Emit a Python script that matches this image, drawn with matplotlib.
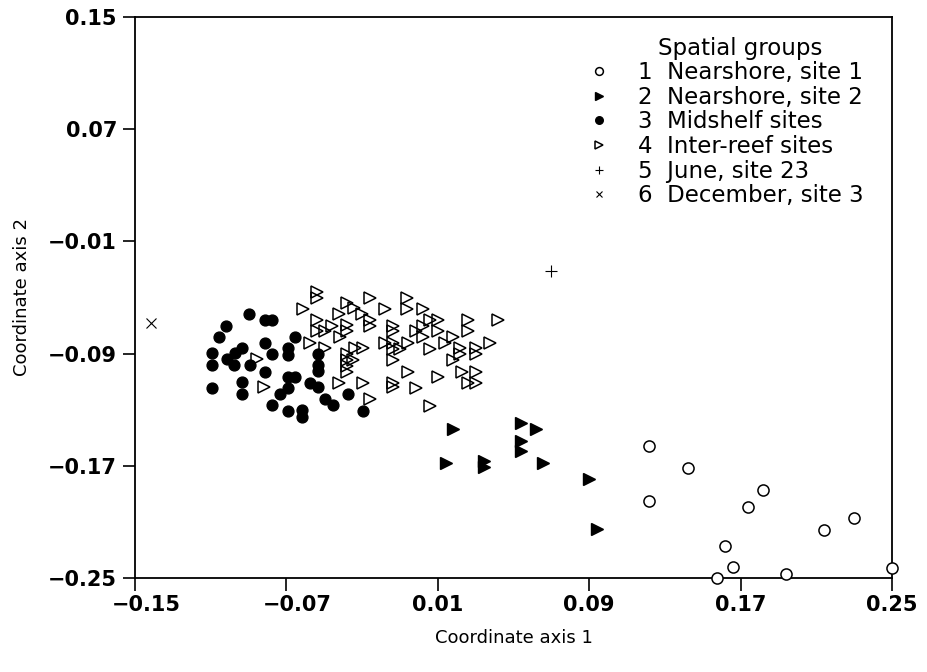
"""ordination plot of spatial groups"""
import matplotlib
matplotlib.use("Agg")
import matplotlib.pyplot as plt
import matplotlib.transforms as mtransforms

plt.rcParams['font.family'] = ['DejaVu Sans']

# group 1: nearshore, site 1 (open circles)
g1_x = [0.1218, 0.142, 0.1218, 0.182, 0.1741, 0.2299, 0.2142, 0.1618,
        0.1658, 0.1577, 0.194, 0.2498]
g1_y = [-0.1559, -0.1718, -0.1951, -0.1872, -0.1996, -0.2074, -0.2158,
        -0.2270, -0.2424, -0.2500, -0.2471, -0.2431]

# group 2: nearshore, site 2 (filled triangles)
g2_x = [0.0182, 0.054, 0.0617, 0.054, 0.054, 0.0143, 0.0344, 0.0344,
        0.0657, 0.0901, 0.094]
g2_y = [-0.1438, -0.1393, -0.1438, -0.1521, -0.1594, -0.1678, -0.1666,
        -0.1711, -0.1678, -0.1794, -0.2153]

# group 3: midshelf sites (filled circles)
g3_x = [-0.0896, -0.1019, -0.1055, -0.0813, -0.0774, -0.1095, -0.1095,
        -0.1015, -0.0972, -0.0933, -0.0975, -0.0892, -0.0813, -0.0774,
        -0.0813, -0.0693, -0.0693, -0.0655, -0.1095, -0.0933, -0.0933,
        -0.0693, -0.0655, -0.0693, -0.0734, -0.0774, -0.0693, -0.0616,
        -0.0616, -0.0535, -0.0535, -0.0535, -0.0575, -0.0535, -0.0496,
        -0.0455, -0.0376, -0.0294]
g3_y = [-0.0620, -0.0701, -0.0779, -0.0660, -0.0660, -0.0898, -0.0981,
        -0.0941, -0.0898, -0.0862, -0.0981, -0.0981, -0.0822, -0.0903,
        -0.1029, -0.0862, -0.0910, -0.0784, -0.1143, -0.1100, -0.1188,
        -0.1065, -0.1065, -0.1147, -0.1188, -0.1266, -0.1307, -0.1302,
        -0.1350, -0.0903, -0.0981, -0.1022, -0.1107, -0.1140, -0.1226,
        -0.1266, -0.1188, -0.1307]

# group 4: inter-reef sites (open triangles)
g4_x = [-0.0537, -0.0537, -0.0614, -0.0258, -0.0378, -0.0341, -0.0302,
        -0.0258, -0.0179, -0.0061, -0.0061, 0.0023, -0.0420, -0.0537,
        -0.0537, -0.0496, -0.0461, -0.0378, -0.0378, -0.0417, -0.0258,
        -0.0135, -0.0135, -0.0179, -0.0135, -0.0135, -0.0135, -0.0015,
        0.0023, 0.0059, 0.0103, 0.0023, 0.0103, -0.0100, -0.0056,
        0.0261, 0.0261, 0.0420, 0.0182, 0.0138, -0.0575, -0.0496,
        -0.0378, -0.0338, -0.0297, -0.0378, -0.0347, -0.0378, -0.0378,
        0.0059, 0.0217, 0.0217, 0.0302, 0.0302, 0.0376, 0.0179,
        -0.0056, 0.0103, 0.0226, 0.0302, 0.0261, 0.0302, -0.0420,
        -0.0297, -0.0135, -0.0135, -0.0015, -0.0258, 0.0059, -0.0857,
        -0.0817]
g4_y = [-0.0459, -0.0501, -0.0584, -0.0501, -0.0537, -0.0577, -0.0620,
        -0.0660, -0.0584, -0.0501, -0.0584, -0.0584, -0.0620, -0.0660,
        -0.0739, -0.0739, -0.0703, -0.0696, -0.0739, -0.0784, -0.0703,
        -0.0703, -0.0739, -0.0822, -0.0822, -0.0869, -0.0946, -0.0739,
        -0.0703, -0.0660, -0.0660, -0.0784, -0.0739, -0.0869, -0.0822,
        -0.0660, -0.0739, -0.0660, -0.0784, -0.0822, -0.0827, -0.0862,
        -0.0903, -0.0862, -0.0862, -0.0946, -0.0946, -0.0988, -0.1029,
        -0.0869, -0.0862, -0.0903, -0.0862, -0.0903, -0.0827, -0.0946,
        -0.1029, -0.1069, -0.1029, -0.1029, -0.1112, -0.1112, -0.1107,
        -0.1107, -0.1107, -0.1140, -0.1147, -0.1226, -0.1274, -0.0941,
        -0.1140]

# group 5: June, site 23 ; group 6: December, site 3
g5_x, g5_y = [0.070], [-0.031]
g6_x, g6_y = [-0.1415], [-0.068]

labels = ["1  Nearshore, site 1", "2  Nearshore, site 2", "3  Midshelf sites",
          "4  Inter-reef sites", "5  June, site 23", "6  December, site 3"]
xticks = [-0.15, -0.07, 0.01, 0.09, 0.17, 0.25]
yticks = [0.15, 0.07, -0.01, -0.09, -0.17, -0.25]


def fmt(v):
    return ("%.2f" % v).replace("-", "\u2212")


fig = plt.figure(figsize=(9.28, 6.72), dpi=100)
ax = fig.add_axes([0.1455, 0.1399, 0.8157, 0.8348])

ax.plot(g1_x, g1_y, 'o', ms=8, mfc='white', mec='black', mew=1.1,
        ls='none', label=labels[0], clip_on=False, zorder=3)
ax.plot(g2_x, g2_y, '>', ms=8, mfc='black', mec='black', mew=1.0,
        ls='none', label=labels[1], clip_on=False, zorder=3)
ax.plot(g3_x, g3_y, 'o', ms=7.8, mfc='black', mec='black',
        ls='none', label=labels[2], clip_on=False, zorder=3)
ax.plot(g4_x, g4_y, '>', ms=8.5, mfc='none', mec='black', mew=1.1,
        ls='none', label=labels[3], clip_on=False, zorder=2)
ax.plot(g5_x, g5_y, '+', ms=8, mec='black', mew=0.8,
        ls='none', label=labels[4], zorder=3)
ax.plot(g6_x, g6_y, 'x', ms=7, mec='black', mew=0.8,
        ls='none', label=labels[5], zorder=3)

ax.set_xlim(-0.15, 0.25)
ax.set_ylim(-0.25, 0.15)
ax.set_xticks(xticks)
ax.set_xticklabels([fmt(t) for t in xticks])
ax.set_yticks(yticks)
ax.set_yticklabels([fmt(t) for t in yticks])
ax.tick_params(axis='both', direction='out', length=9, width=1.2,
               labelsize=15)
ax.tick_params(axis='x', pad=3)
ax.tick_params(axis='y', pad=4)
for lab in ax.get_xticklabels() + ax.get_yticklabels():
    lab.set_fontweight('bold')
# the negative x labels sit a little right of their ticks
shift = mtransforms.ScaledTranslation(0.11, 0, fig.dpi_scale_trans)
for lab, t in zip(ax.get_xticklabels(), xticks):
    if t < 0:
        lab.set_transform(lab.get_transform() + shift)
for sp in ax.spines.values():
    sp.set_linewidth(1.3)

ax.set_xlabel("Coordinate axis 1", fontsize=13, labelpad=10)
ax.set_ylabel("Coordinate axis 2", fontsize=13, labelpad=12)

leg = ax.legend(loc='upper left', bbox_to_anchor=(0.598, 0.965),
                title="    Spatial groups", frameon=False, fontsize=16.5,
                title_fontsize=16.5, markerscale=0.7, handlelength=1.0,
                handletextpad=1.2, labelspacing=0.07, borderpad=0,
                borderaxespad=0)

fig.savefig("out.png", dpi=100)
